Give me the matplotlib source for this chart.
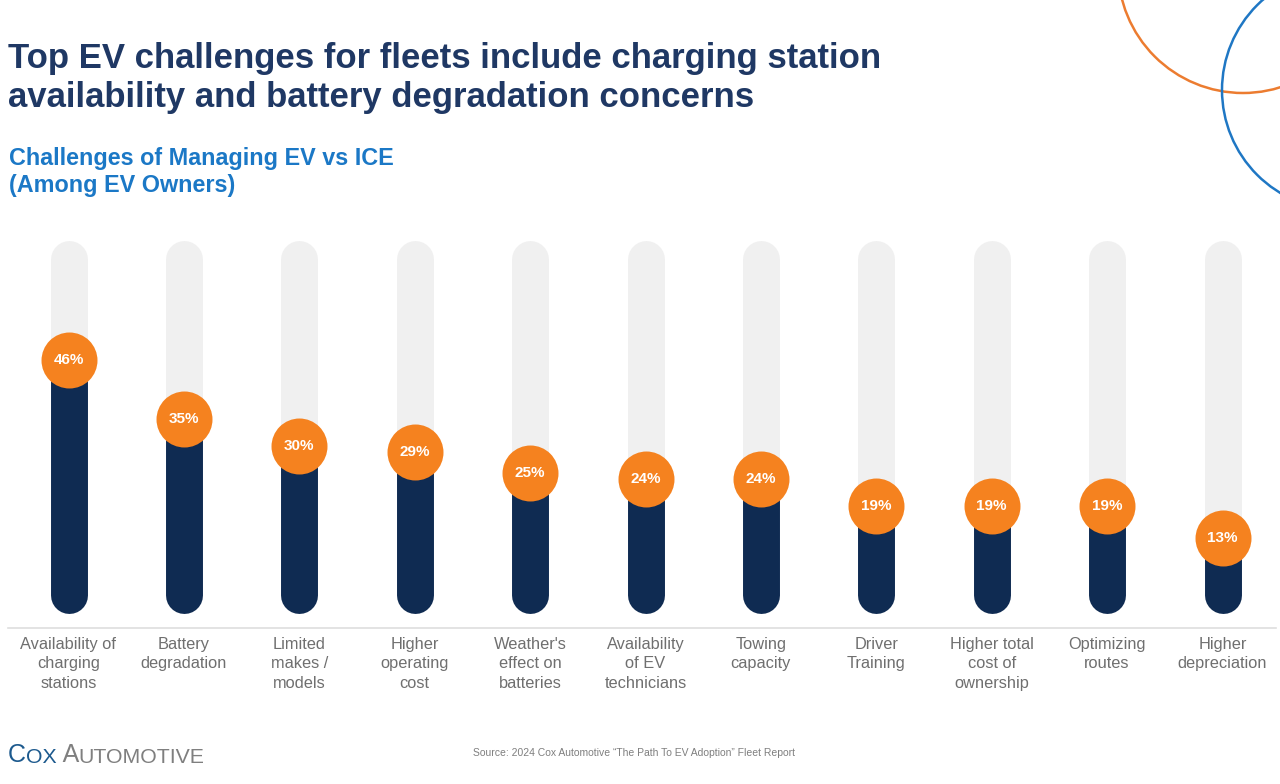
import matplotlib.pyplot as plt
from matplotlib.patches import Circle

categories = ["Availability of\ncharging\nstations", "Battery\ndegradation", "Limited\nmakes /\nmodels",
              "Higher\noperating\ncost", "Weather's\neffect on\nbatteries", "Availability\nof EV\ntechnicians",
              "Towing\ncapacity", "Driver\nTraining", "Higher total\ncost of\nownership",
              "Optimizing\nroutes", "Higher\ndepreciation"]
values = [46, 35, 30, 29, 25, 24, 24, 19, 19, 19, 13]
labels = [f"{v}%" for v in values]

navy = "#0f2b52"
orange = "#f5821f"
track = "#f0f0f0"

W, H = 1280, 784
fig = plt.figure(figsize=(12.8, 7.84), dpi=100)
plt.rcParams['font.family'] = ['Liberation Sans', 'DejaVu Sans']

# background layer in pixel units for the decorations
bg = fig.add_axes([0, 0, 1, 1])
bg.set_xlim(0, W)
bg.set_ylim(H, 0)
bg.axis("off")
bg.add_patch(Circle((1243, -32), 125, fill=False, ec="#ec7c30", lw=1.8))
bg.add_patch(Circle((1342, 90), 120, fill=False, ec="#1f77c4", lw=1.8))
bg.plot([8, 1276], [628, 628], color="#dedede", lw=1.2)

# main chart
ax = fig.add_axes([0, (H - 628) / H, 1, (628 - 230) / H])
ax.set_xlim(-0.5936, 10.498)
ax.set_ylim(-3.71, 70.13)
ax.axis("off")

x = list(range(len(values)))
lw = 26.6
for i, v in zip(x, values):
    ax.plot([i, i], [2.5, 64.66], color=track, lw=lw, solid_capstyle="round", zorder=1)
    ax.plot([i, i], [2.5, v], color=navy, lw=lw, solid_capstyle="round", zorder=2)
ax.scatter(x, values, s=1625, color=orange, zorder=3, linewidths=0)
for i, v, t in zip(x, values, labels):
    ax.text(i, v, t, ha="center", va="center", color="white", fontsize=11,
            fontweight="bold", zorder=4)

for i, c in zip(x, categories):
    bg.text(68.5 + 115.4 * i, 637, c, ha="center", va="top", fontsize=11.8,
            color="#6f6f6f", linespacing=1.36)

# titles
fig.text(8 / W, 1 - 107 / H, "Top EV challenges for fleets include charging station\n"
         "availability and battery degradation concerns", fontsize=25, fontweight="bold",
         color="#1f3864", va="baseline", linespacing=1.22)
fig.text(9 / W, 1 - 192 / H, "Challenges of Managing EV vs ICE\n(Among EV Owners)",
         fontsize=16.8, fontweight="bold", color="#1b78c6", va="baseline", linespacing=1.25)

# footer
t1 = bg.text(8, 762, "C", fontsize=18, color="#1d5a8e", va="baseline")
t2 = bg.annotate("OX", xy=(1, 0), xycoords=t1, fontsize=15.3, color="#1d5a8e", va="bottom")
t3 = bg.annotate(" A", xy=(1, 0), xycoords=t2, fontsize=18, color="#7f7f7f", va="bottom")
bg.annotate("UTOMOTIVE", xy=(1, 0), xycoords=t3, fontsize=15.3, color="#7f7f7f", va="bottom")

fig.text(634 / W, 1 - 756 / H, "Source: 2024 Cox Automotive \u201cThe Path To EV Adoption\u201d Fleet Report",
         fontsize=7.5, color="#7f7f7f", ha="center", va="baseline")

fig.savefig("out.png", dpi=100)
